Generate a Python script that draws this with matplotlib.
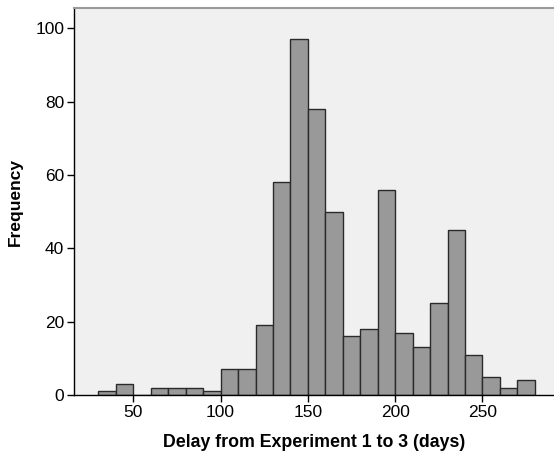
import numpy as np
import matplotlib.pyplot as plt

plt.rcParams['font.family'] = ['Liberation Sans', 'DejaVu Sans']

# histogram bins (days) and counts
bin_edges = np.arange(30, 290, 10)
counts = [1, 3, 0, 2, 2, 2, 1, 7, 7, 19, 58, 97, 78, 50,
          16, 18, 56, 17, 13, 25, 45, 11, 5, 2, 4]
x_ticks = [50, 100, 150, 200, 250]
y_ticks = [0, 20, 40, 60, 80, 100]

fig = plt.figure(figsize=(5.54, 4.55), dpi=100)
ax = fig.add_axes([74 / 554, 60 / 455, 480 / 554, 387 / 455])
ax.set_facecolor('#f0f0f0')

ax.bar(bin_edges[:-1], counts, width=10, align='edge',
       color='#999999', edgecolor='#2a2a2a', linewidth=1.0)

ax.set_xlim(16, 291)
ax.set_ylim(0, 105.5)
ax.set_xticks(x_ticks)
ax.set_yticks(y_ticks)
ax.tick_params(axis='both', direction='out', length=5, width=1,
               labelsize=12.5, colors='black', pad=2)

ax.spines['right'].set_visible(False)
ax.spines['top'].set_color('#9a9a9a')
ax.spines['top'].set_linewidth(1.5)
for s in ['left', 'bottom']:
    ax.spines[s].set_color('black')
    ax.spines[s].set_linewidth(1)

ax.set_xlabel('Delay from Experiment 1 to 3 (days)', fontsize=12.8,
              fontweight='bold', labelpad=10)
ax.set_ylabel('Frequency', fontsize=12.5, fontweight='bold', labelpad=9)

fig.savefig('out.png', dpi=100)
